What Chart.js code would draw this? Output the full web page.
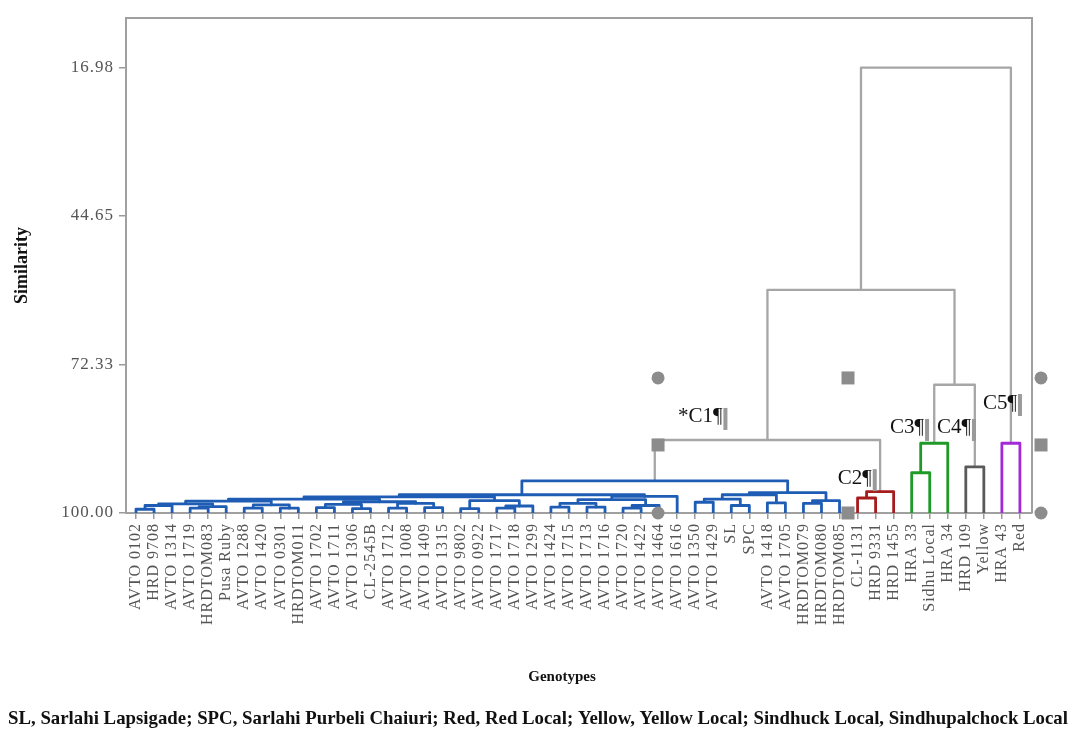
<!DOCTYPE html>
<html lang="en">
<head>
<meta charset="UTF-8">
<title>Dendrogram</title>
<style>
  html, body { margin: 0; padding: 0; background: #fff; }
  #wrap { width: 1072px; height: 734px; }
</style>
</head>
<body>
<div id="wrap"><canvas id="mychart" width="1072" height="734"></canvas></div>
<script src="https://cdn.jsdelivr.net/npm/chart.js"></script>
<script>
// leaves, left to right
const genotypes = [
  'AVTO 0102', 'HRD 9708', 'AVTO 1314', 'AVTO 1719', 'HRDTOM083', 'Pusa Ruby', 'AVTO 1288', 'AVTO 1420',
  'AVTO 0301', 'HRDTOM011', 'AVTO 1702', 'AVTO 1711', 'AVTO 1306', 'CL-2545B', 'AVTO 1712', 'AVTO 1008',
  'AVTO 1409', 'AVTO 1315', 'AVTO 9802', 'AVTO 0922', 'AVTO 1717', 'AVTO 1718', 'AVTO 1299', 'AVTO 1424',
  'AVTO 1715', 'AVTO 1713', 'AVTO 1716', 'AVTO 1720', 'AVTO 1422', 'AVTO 1464', 'AVTO 1616', 'AVTO 1350',
  'AVTO 1429', 'SL', 'SPC', 'AVTO 1418', 'AVTO 1705', 'HRDTOM079', 'HRDTOM080', 'HRDTOM085',
  'CL-1131', 'HRD 9331', 'HRD 1455', 'HRA 33', 'Sidhu Local', 'HRA 34', 'HRD 109', 'Yellow', 'HRA 43', 'Red'
];

const yTicks = [16.98, 44.65, 72.33, 100.00];

// merges: [node, left, right, similarity]  (numbers are leaf indexes)
const merges = [
  ['a', 0, 1, 99.3], ['b', 'a', 2, 98.6], ['c0', 3, 4, 99.1], ['c', 'c0', 5, 98.8],
  ['bc', 'b', 'c', 98.3], ['e', 6, 7, 99.1], ['h', 8, 9, 99.1], ['eh', 'e', 'h', 98.5],
  ['P', 'bc', 'eh', 97.8], ['i', 10, 11, 99.0], ['j', 12, 13, 99.2], ['ij', 'i', 'j', 98.4],
  ['k', 14, 15, 99.1], ['l', 16, 17, 99.0], ['kl', 'k', 'l', 98.2], ['Q', 'ij', 'kl', 97.9],
  ['LLx', 'P', 'Q', 97.4], ['m', 18, 19, 99.2], ['n0', 20, 21, 99.1], ['n', 'n0', 22, 98.7],
  ['LLy', 'm', 'n', 97.7], ['LL', 'LLx', 'LLy', 97.0],
  ['t0', 23, 24, 98.9], ['t1', 25, 26, 98.9], ['t', 't0', 't1', 98.2], ['u0', 27, 28, 99.1],
  ['u', 'u0', 29, 98.6], ['LR1', 't', 'u', 97.5], ['LR', 'LR1', 30, 96.9], ['L', 'LL', 'LR', 96.6],
  ['p', 31, 32, 98.0], ['q', 33, 34, 98.6], ['pq', 'p', 'q', 97.4], ['r', 35, 36, 98.1],
  ['pqr', 'pq', 'r', 96.6], ['s', 37, 38, 98.2], ['s2', 's', 39, 97.7], ['R', 'pqr', 's2', 96.2],
  ['C1', 'L', 'R', 94.0],
  ['c2a', 40, 41, 97.2], ['C2', 'c2a', 42, 96.0],
  ['c3a', 43, 44, 92.5], ['C3', 'c3a', 45, 87.0],
  ['C4', 46, 47, 91.4],
  ['C5', 48, 49, 87.0],
  ['C12', 'C1', 'C2', 86.4], ['C34', 'C3', 'C4', 76.1], ['X', 'C12', 'C34', 58.4],
  ['root', 'X', 'C5', 16.98]
];

const clusterColors = { C1: '#1f5db5', C2: '#a61c1c', C3: '#1f9a26', C4: '#5a5a5a', C5: '#a32ad8' };
const linkGray = '#a6a6a6';

// text-box handles left on the figure
const handleX = [28.94, 28.94, 28.94, 39.47, 39.47, 50.17, 50.17, 50.17];
const handleY = [74.83, 87.32, 100, 74.83, 100, 74.83, 87.32, 100];
const handleShape = ['circle', 'rect', 'circle', 'rect', 'rect', 'circle', 'rect', 'circle'];

const clusterLabels = ['*C1\u00b6', 'C2\u00b6', 'C3\u00b6', 'C4\u00b6', 'C5\u00b6'];
const labelX = [30.04, 38.9, 41.8, 44.4, 46.95];
const labelY = [82.1, 93.5, 84.15, 84.15, 79.5];

const footnote = 'SL, Sarlahi Lapsigade; SPC, Sarlahi Purbeli Chaiuri; Red, Red Local; Yellow, Yellow Local; Sindhuck Local, Sindhupalchock Local';

// positions of nodes
const nodes = {};
genotypes.forEach((g, i) => { nodes[i] = { x: i, h: 100 }; });
const children = {};
merges.forEach(([name, l, r, h]) => {
  nodes[name] = { x: (nodes[l].x + nodes[r].x) / 2, h: h };
  children[name] = [l, r];
});
const colorOf = {};
function paint(name, col) {
  if (!(name in children)) return;
  colorOf[name] = col;
  children[name].forEach(c => paint(c, col));
}
Object.keys(clusterColors).forEach(c => paint(c, clusterColors[c]));

const linkSets = merges.map(([name, l, r, h]) => {
  const col = colorOf[name] || linkGray;
  return {
    data: [
      { x: nodes[l].x, y: nodes[l].h },
      { x: nodes[l].x, y: h },
      { x: nodes[r].x, y: h },
      { x: nodes[r].x, y: nodes[r].h }
    ],
    showLine: true,
    borderColor: col,
    borderWidth: colorOf[name] ? 2.8 : 2.3,
    borderJoinStyle: 'round',
    pointRadius: 0,
    fill: false
  };
});

const serif = '"Liberation Serif", "Times New Roman", serif';

const extras = {
  id: 'extras',
  beforeUpdate(chart) {
    chart.ctx.letterSpacing = '1px';
  },
  beforeDraw(chart) {
    chart.ctx.letterSpacing = '1px';
  },
  afterDraw(chart) {
    const ctx = chart.ctx;
    const a = chart.chartArea;
    const xs = chart.scales.x, ys = chart.scales.y;
    ctx.save();
    ctx.letterSpacing = '0px';
    // frame top + right
    ctx.strokeStyle = '#a0a0a0';
    ctx.lineWidth = 2;
    ctx.beginPath();
    ctx.moveTo(a.left, a.top);
    ctx.lineTo(a.right, a.top);
    ctx.lineTo(a.right, a.bottom);
    ctx.stroke();

    // handles (some sit outside the plot box)
    ctx.fillStyle = '#8c8c8c';
    handleX.forEach((hx, i) => {
      const px = xs.getPixelForValue(hx);
      const py = ys.getPixelForValue(handleY[i]);
      if (handleShape[i] === 'rect') {
        ctx.fillRect(px - 6.5, py - 6.5, 13, 13);
      } else {
        ctx.beginPath();
        ctx.arc(px, py, 6.5, 0, Math.PI * 2);
        ctx.fill();
      }
    });

    // cluster labels
    ctx.font = '21px ' + serif;
    ctx.textBaseline = 'middle';
    ctx.textAlign = 'left';
    clusterLabels.forEach((t, i) => {
      const px = xs.getPixelForValue(labelX[i]);
      const py = ys.getPixelForValue(labelY[i]);
      ctx.fillStyle = '#111';
      ctx.fillText(t, px, py);
      const w = ctx.measureText(t).width;
      ctx.fillStyle = '#9a9a9a';
      ctx.fillRect(px + w + 1, py - 9, 4, 22);
    });

    // axis titles
    ctx.fillStyle = '#111';
    ctx.font = 'bold 18px ' + serif;
    ctx.textAlign = 'center';
    ctx.save();
    ctx.translate(22, (a.top + a.bottom) / 2);
    ctx.rotate(-Math.PI / 2);
    ctx.fillText('Similarity', 0, 0);
    ctx.restore();
    ctx.font = 'bold 15px ' + serif;
    ctx.fillText('Genotypes', 562, 677);

    // footnote
    ctx.font = 'bold 19px ' + serif;
    ctx.textAlign = 'left';
    const fw = ctx.measureText(footnote).width;
    ctx.save();
    ctx.translate(8, 719);
    ctx.scale(1060 / fw, 1);
    ctx.fillText(footnote, 0, 0);
    ctx.restore();
    ctx.restore();
  }
};

new Chart(document.getElementById('mychart').getContext('2d'), {
  type: 'scatter',
  data: { datasets: linkSets },
  options: {
    responsive: false,
    animation: false,
    layout: { padding: { top: 18, right: 40, left: 0, bottom: 0 } },
    plugins: { legend: { display: false }, tooltip: { enabled: false } },
    scales: {
      x: {
        type: 'linear',
        min: -0.555,
        max: 49.67,
        afterBuildTicks: s => { s.ticks = genotypes.map((g, i) => ({ value: i })); },
        afterFit: s => { s.height = 221; },
        ticks: {
          autoSkip: false,
          minRotation: 90,
          maxRotation: 90,
          padding: 4,
          color: '#555',
          font: { family: serif, size: 16 },
          callback: v => genotypes[Math.round(v)]
        },
        grid: { drawOnChartArea: false, tickLength: 6, color: '#9a9a9a', lineWidth: 1.5 },
        border: { color: '#a0a0a0', width: 2 }
      },
      y: {
        type: 'linear',
        reverse: true,
        min: 7.75,
        max: 100,
        afterBuildTicks: s => { s.ticks = yTicks.map(v => ({ value: v })); },
        afterFit: s => { s.width = 126; },
        ticks: {
          padding: 5,
          color: '#555',
          font: { family: serif, size: 17 },
          callback: v => v.toFixed(2)
        },
        grid: { drawOnChartArea: false, tickLength: 7, color: '#9a9a9a', lineWidth: 1.5 },
        border: { color: '#a0a0a0', width: 2 }
      }
    }
  },
  plugins: [extras]
});
</script>
</body>
</html>
